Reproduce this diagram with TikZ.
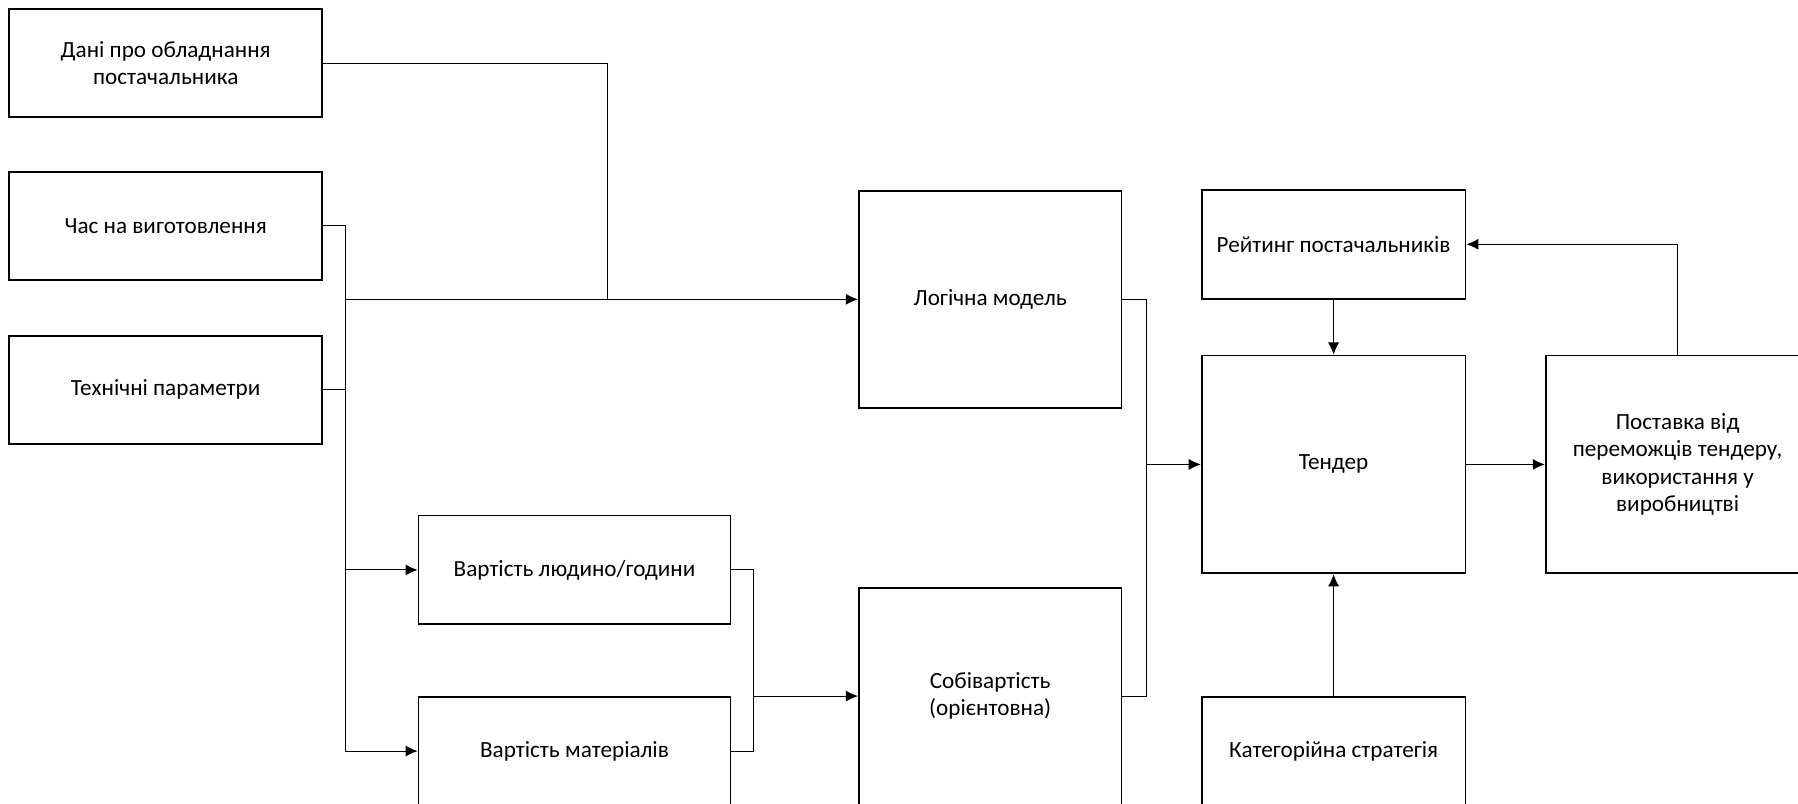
\documentclass[tikz,border=0pt]{standalone}
\usepackage{fontspec}
\setmainfont{Carlito}
\usetikzlibrary{arrows.meta}

\tikzset{
    blok/.style={draw, line width=0.9pt, align=center, inner sep=2pt},
    svyaz/.style={line width=0.5pt},
    strilka/.style={line width=0.5pt, -{Latex[length=6pt,width=5.5pt]}},
}

\begin{document}
\begin{tikzpicture}[font=\fontsize{11.5}{13.5}\selectfont]
    \useasboundingbox (0,0) rectangle (31.36,-14.02);
    % left column
    \node[blok, minimum width=5.46cm, minimum height=1.88cm] (dani) at (2.89,-1.10) {Дані про обладнання\\постачальника};
    \node[blok, minimum width=5.46cm, minimum height=1.88cm] (chas) at (2.89,-3.94) {Час на виготовлення};
    \node[blok, minimum width=5.46cm, minimum height=1.88cm] (tekh) at (2.89,-6.80) {Технічні параметри};
    % costs
    \node[blok, minimum width=5.44cm, minimum height=1.90cm] (lyud) at (10.02,-9.94) {Вартість людино/години};
    \node[blok, minimum width=5.44cm, minimum height=1.90cm] (mater) at (10.02,-13.10) {Вартість матеріалів};
    % middle
    \node[blok, minimum width=4.58cm, minimum height=3.78cm] (logic) at (17.27,-5.22) {Логічна модель};
    \node[blok, minimum width=4.58cm, minimum height=3.78cm] (sobiv) at (17.27,-12.14) {Собівартість\\(орієнтовна)};
    % tender column
    \node[blok, minimum width=4.60cm, minimum height=1.90cm] (reit) at (23.26,-4.26) {Рейтинг постачальників};
    \node[blok, minimum width=4.60cm, minimum height=3.80cm] (tender) at (23.26,-8.10) {Тендер};
    \node[blok, minimum width=4.60cm, minimum height=1.90cm] (kateg) at (23.26,-13.10) {Категорійна стратегія};
    \node[blok, minimum width=4.60cm, minimum height=3.80cm] (postav) at (29.26,-8.10) {Поставка від\\переможців тендеру,\\використання у\\виробництві};

    % junctions
    \coordinate (jdani) at (10.6,-5.22);
    \coordinate (bustop) at (6.02,-3.94);
    \coordinate (busbot) at (6.02,-13.10);
    \coordinate (jlogic) at (6.02,-5.22);
    \coordinate (jlyud) at (6.02,-9.94);
    \coordinate (jcost) at (13.14,-9.94);
    \coordinate (jcostb) at (13.14,-13.10);
    \coordinate (jsobiv) at (13.14,-12.14);
    \coordinate (jmid) at (20.0,-5.22);
    \coordinate (jmidb) at (20.0,-12.14);
    \coordinate (jtender) at (20.0,-8.10);

    \draw[svyaz] (dani.east) -| (jdani);
    \draw[svyaz] (chas.east) -- (bustop) -- (busbot);
    \draw[svyaz] (tekh.east) -- (tekh.east -| bustop);
    \draw[strilka] (jlogic) -- (logic.west);
    \draw[strilka] (jlyud) -- (lyud.west);
    \draw[strilka] (busbot) -- (mater.west);
    \draw[svyaz] (lyud.east) -- (jcost) -- (jcostb) -- (mater.east);
    \draw[strilka] (jsobiv) -- (sobiv.west);
    \draw[svyaz] (logic.east) -- (jmid) -- (jmidb) -- (sobiv.east);
    \draw[strilka] (jtender) -- (tender.west);
    \draw[strilka] (reit.south) -- (tender.north);
    \draw[strilka] (kateg.north) -- (tender.south);
    \draw[strilka] (tender.east) -- (postav.west);
    \draw[strilka] (postav.north) |- (reit.east);
\end{tikzpicture}
\end{document}
